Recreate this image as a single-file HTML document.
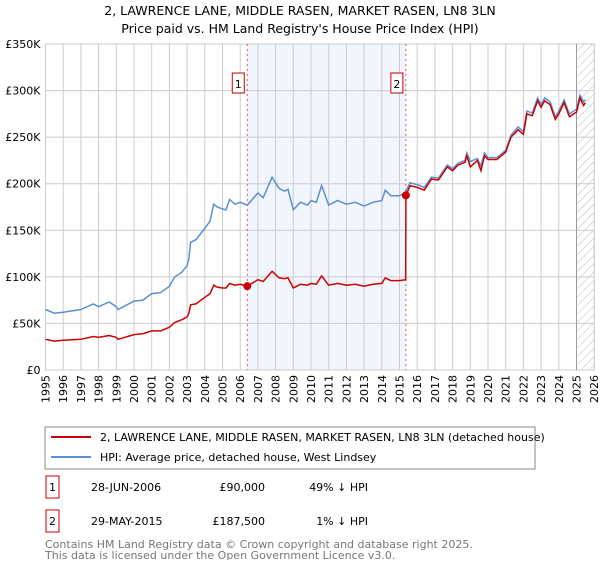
<!DOCTYPE html>
<html><head><meta charset="utf-8"><style>
body{margin:0;background:#fff;font-family:"DejaVu Sans","Liberation Sans",sans-serif;}
svg text{font-family:"DejaVu Sans","Liberation Sans",sans-serif;}
</style></head><body>
<svg id="c" width="600" height="560" xmlns="http://www.w3.org/2000/svg">
<text x="300" y="15" text-anchor="middle" font-size="12.5">2, LAWRENCE LANE, MIDDLE RASEN, MARKET RASEN, LN8 3LN</text>
<text x="300" y="33" text-anchor="middle" font-size="12.5">Price paid vs. HM Land Registry's House Price Index (HPI)</text>
<defs><pattern id="hatch" width="6" height="6" patternUnits="userSpaceOnUse" patternTransform="rotate(45)"><line x1="0" y1="0" x2="0" y2="6" stroke="#bbb" stroke-width="1"/></pattern></defs>
<g id="plot"></g>
<rect x="45" y="427" width="490" height="42" fill="#fff" stroke="#888"/>
<line x1="51" y1="437" x2="91" y2="437" stroke="#cc0000" stroke-width="2"/>
<text x="100" y="441" font-size="11">2, LAWRENCE LANE, MIDDLE RASEN, MARKET RASEN, LN8 3LN (detached house)</text>
<line x1="51" y1="457" x2="91" y2="457" stroke="#5b8fd6" stroke-width="2"/>
<text x="100" y="461" font-size="11">HPI: Average price, detached house, West Lindsey</text>
<rect x="46" y="476" width="13" height="22" fill="#fff" stroke="#cc0000"/>
<text x="52.5" y="491" font-size="11" text-anchor="middle">1</text>
<text x="91" y="491" font-size="11">28-JUN-2006</text>
<text x="265" y="491" font-size="11" text-anchor="end">£90,000</text>
<text x="368" y="491" font-size="11" text-anchor="end">49% ↓ HPI</text>
<rect x="46" y="510" width="13" height="22" fill="#fff" stroke="#cc0000"/>
<text x="52.5" y="525" font-size="11" text-anchor="middle">2</text>
<text x="91" y="525" font-size="11">29-MAY-2015</text>
<text x="265" y="525" font-size="11" text-anchor="end">£187,500</text>
<text x="368" y="525" font-size="11" text-anchor="end">1% ↓ HPI</text>
<text x="45" y="548" font-size="11" fill="#777">Contains HM Land Registry data © Crown copyright and database right 2025.</text>
<text x="45" y="559" font-size="11" fill="#777">This data is licensed under the Open Government Licence v3.0.</text>
</svg>
<script>
const hpiDates=[1995,1995.5,1996,1997,1997.7,1998,1998.6,1999,1999.1,2000,2000.5,2001,2001.5,2002,2002.3,2002.7,2003,2003.1,2003.2,2003.5,2004,2004.3,2004.5,2004.7,2005,2005.2,2005.4,2005.7,2006,2006.4,2007,2007.3,2007.8,2008.2,2008.5,2008.7,2009,2009.4,2009.8,2010,2010.3,2010.6,2011,2011.5,2012,2012.5,2013,2013.5,2014,2014.2,2014.5,2015,2015.3,2015.6,2016,2016.4,2016.8,2017.2,2017.7,2018,2018.3,2018.7,2018.8,2019,2019.4,2019.6,2019.8,2020,2020.5,2021,2021.3,2021.7,2022,2022.2,2022.5,2022.8,2023,2023.2,2023.5,2023.8,2024,2024.3,2024.6,2025,2025.2,2025.4,2025.5];
const hpiValues=[65,61,62,65,71,68,73,68,65,74,75,82,83,90,100,105,112,120,137,140,152,160,178,175,173,172,183,178,180,177,190,185,207,195,192,194,172,180,177,182,180,198,177,182,178,180,176,180,182,193,187,187,190,201,199,196,207,206,220,216,222,225,233,224,227,219,233,228,228,236,252,261,256,278,276,292,285,292,288,272,278,290,275,280,295,288,290];
const redDates=[1995,1995.5,1996,1997,1997.7,1998,1998.6,1999,1999.1,2000,2000.5,2001,2001.5,2002,2002.3,2002.7,2003,2003.1,2003.2,2003.5,2004,2004.3,2004.5,2004.7,2005,2005.2,2005.4,2005.7,2006,2006.4,2007,2007.3,2007.8,2008.2,2008.5,2008.7,2009,2009.4,2009.8,2010,2010.3,2010.6,2011,2011.5,2012,2012.5,2013,2013.5,2014,2014.2,2014.5,2015,2015.35,2015.36,2015.6,2016,2016.4,2016.8,2017.2,2017.7,2018,2018.3,2018.7,2018.8,2019,2019.4,2019.6,2019.8,2020,2020.5,2021,2021.3,2021.7,2022,2022.2,2022.5,2022.8,2023,2023.2,2023.5,2023.8,2024,2024.3,2024.6,2025,2025.2,2025.4,2025.5];
const redValues=[33,31,32,33,36,35,37,35,33,38,39,42,42,46,51,54,57,61,70,71,78,82,91,89,88,88,93,91,92,90,97,95,106,99,98,99,88,92,91,93,92,101,91,93,91,92,90,92,93,99,96,96,97,187.5,198,196,193,205,204,218,214,220,223,230,218,225,214,230,226,226,234,250,258,253,275,273,289,282,289,285,269,275,287,272,277,292,284,287];
const saleDates=[2006.4,2015.36];
const saleValues=[90,187.5];
const yTicks=[0,50,100,150,200,250,300,350];
const yLabels=["£0","£50K","£100K","£150K","£200K","£250K","£300K","£350K"];
const xYears=[1995,1996,1997,1998,1999,2000,2001,2002,2003,2004,2005,2006,2007,2008,2009,2010,2011,2012,2013,2014,2015,2016,2017,2018,2019,2020,2021,2022,2023,2024,2025,2026];
const L=45.5,R=594.2,T=44,B=370;
const xs=y=>L+(y-1995)*(R-L)/31;
const ys=v=>B-v/350*(B-T);
const NS="http://www.w3.org/2000/svg";
const g=document.getElementById('plot');
function mk(t,a){const e=document.createElementNS(NS,t);for(const k in a)e.setAttribute(k,a[k]);g.appendChild(e);return e;}
let e;
e=mk('rect',{x:xs(saleDates[0]),y:T,width:xs(saleDates[1])-xs(saleDates[0]),height:B-T,fill:'#eef3fc',opacity:0.8});


e=mk('rect',{x:xs(2025.05),y:T,width:R-xs(2025.05),height:B-T,fill:'url(#hatch)'});


xYears.forEach(yr=>{
 e=mk('line',{x1:xs(yr),x2:xs(yr),y1:T,y2:B,stroke:'#ccc','stroke-width':1});
 
 
 e=mk('text',{x:0,y:0,'font-size':11,'text-anchor':'end',transform:`translate(${xs(yr)+4},${B+5}) rotate(-90)`});
 e.textContent=yr;
 
 
});
yTicks.forEach((v,i)=>{
 e=mk('line',{x1:L,x2:R,y1:ys(v),y2:ys(v),stroke:'#ccc','stroke-width':1});
 
 
 e=mk('text',{x:L-5,y:ys(v)+4,'font-size':11,'text-anchor':'end'});
 e.textContent=yLabels[i];
 
 
});
e=mk('rect',{x:L,y:T,width:R-L,height:B-T,fill:'none',stroke:'#ccc'});


e=mk('line',{x1:xs(2025),x2:xs(2025),y1:T,y2:B,stroke:'#999','stroke-width':1});


saleDates.forEach((d,i)=>{
 e=mk('line',{x1:xs(d),x2:xs(d),y1:T,y2:B,stroke:'#e55','stroke-width':1,'stroke-dasharray':'2,3'});
 
 
 e=mk('rect',{x:xs(d)-15,y:73,width:12,height:20,fill:'#fff',stroke:'#cc0000'});
 
 
 e=mk('text',{x:xs(d)-9,y:88,'font-size':11,'text-anchor':'middle'});
 e.textContent=String(i+1);
});
function path(dates,vals){return dates.map((d,i)=>(i?'L':'M')+xs(d).toFixed(1)+','+ys(vals[i]).toFixed(1)).join('');}
e=mk('path',{d:path(hpiDates,hpiValues),fill:'none',stroke:'#5b8fd6','stroke-width':1.5});


e=mk('path',{d:path(redDates,redValues),fill:'none',stroke:'#cc0000','stroke-width':1.5});


saleDates.forEach((d,i)=>{
 e=mk('circle',{cx:xs(d),cy:ys(saleValues[i]),r:4,fill:'#cc0000'});
 
 
});
</script>
</body></html>
